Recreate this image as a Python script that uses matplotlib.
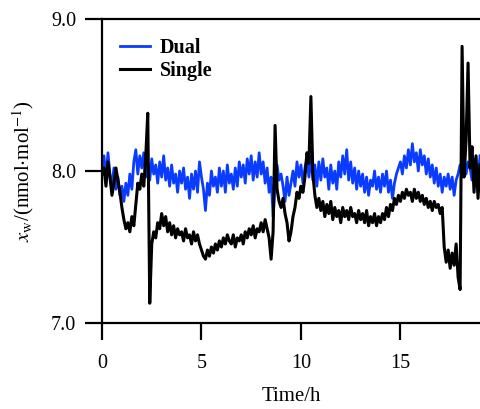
import numpy
from matplotlib import pyplot
from matplotlib.ticker import FormatStrFormatter

# time axis in hours, one reading every 0.1 h
time_h = numpy.round(numpy.arange(0, 191) * 0.1, 1)

# Dual-path analyser, nmol/mol
dual = [
    8.02, 8.10, 7.95, 8.12, 7.98, 7.90, 8.02, 7.88, 7.96, 7.84,
    7.90, 7.80, 7.92, 7.84, 7.98, 7.88, 8.06, 8.14, 7.98, 8.10,
    8.02, 8.12, 7.96, 8.06, 7.94, 8.08, 7.98, 8.04, 7.92, 8.06,
    7.96, 8.10, 7.94, 8.02, 7.90, 8.04, 7.92, 7.98, 7.86, 8.00,
    7.92, 8.02, 7.88, 7.96, 7.82, 7.98, 7.88, 8.00, 7.86, 8.06,
    7.96, 7.88, 7.74, 7.92, 7.84, 8.00, 7.90, 7.96, 7.86, 8.02,
    7.90, 8.00, 7.86, 8.04, 7.92, 7.98, 7.88, 8.02, 7.90, 8.06,
    7.96, 8.04, 7.92, 8.08, 7.98, 8.10, 7.94, 8.06, 7.96, 8.12,
    7.98, 8.06, 7.92, 8.02, 7.86, 7.96, 7.70, 7.90, 8.04, 7.94,
    7.98, 7.90, 7.80, 7.96, 7.84, 7.92, 8.00, 7.90, 8.06, 7.96,
    8.04, 7.92, 8.02, 8.08, 7.96, 8.10, 7.94, 8.04, 7.90, 8.06,
    7.94, 8.08, 7.96, 8.02, 7.88, 8.04, 7.92, 8.00, 7.88, 8.06,
    7.96, 8.10, 7.98, 8.14, 7.94, 8.06, 7.92, 8.02, 7.88, 8.00,
    7.90, 7.98, 7.86, 7.96, 7.84, 7.94, 7.90, 8.00, 7.88, 7.96,
    7.86, 7.98, 7.90, 8.00, 7.86, 7.94, 7.82, 7.92, 7.98, 8.02,
    8.06, 7.98, 8.10, 8.02, 8.14, 8.04, 8.18, 8.06, 8.12, 8.00,
    8.14, 8.04, 8.10, 7.98, 8.08, 7.96, 8.04, 7.92, 8.02, 7.90,
    7.98, 7.86, 7.96, 7.90, 7.98, 7.88, 7.96, 7.84, 7.94, 7.98,
    8.04, 7.96, 8.10, 7.98, 8.06, 8.02, 7.94, 8.08, 8.00, 7.96, 8.10,
]

# Single-path analyser, nmol/mol
single = [
    7.98, 8.02, 7.90, 8.06, 7.96, 7.84, 7.92, 8.02, 7.94, 7.86,
    7.76, 7.68, 7.62, 7.66, 7.60, 7.70, 7.64, 7.78, 7.92, 7.88,
    7.98, 7.90, 8.10, 8.38, 7.13, 7.52, 7.60, 7.56, 7.66, 7.62,
    7.72, 7.64, 7.70, 7.60, 7.66, 7.58, 7.64, 7.56, 7.62, 7.58,
    7.60, 7.54, 7.62, 7.56, 7.58, 7.52, 7.60, 7.54, 7.58, 7.52,
    7.48, 7.44, 7.42, 7.48, 7.44, 7.50, 7.46, 7.52, 7.48, 7.54,
    7.50, 7.56, 7.52, 7.58, 7.54, 7.52, 7.58, 7.50, 7.56, 7.54,
    7.58, 7.52, 7.60, 7.56, 7.62, 7.58, 7.64, 7.56, 7.62, 7.60,
    7.66, 7.60, 7.68, 7.62, 7.56, 7.42, 7.60, 8.30, 7.88, 7.80,
    7.76, 7.82, 7.72, 7.66, 7.54, 7.60, 7.70, 7.76, 7.86, 7.82,
    7.90, 7.86, 7.96, 8.12, 8.05, 8.49, 7.98, 7.84, 7.76, 7.82,
    7.74, 7.80, 7.70, 7.78, 7.72, 7.80, 7.68, 7.76, 7.70, 7.74,
    7.66, 7.76, 7.70, 7.74, 7.68, 7.76, 7.70, 7.72, 7.66, 7.74,
    7.68, 7.72, 7.66, 7.74, 7.64, 7.70, 7.66, 7.72, 7.64, 7.70,
    7.66, 7.72, 7.68, 7.76, 7.70, 7.78, 7.74, 7.82, 7.78, 7.84,
    7.80, 7.86, 7.82, 7.88, 7.84, 7.86, 7.80, 7.88, 7.82, 7.86,
    7.80, 7.84, 7.78, 7.82, 7.76, 7.80, 7.74, 7.80, 7.76, 7.78,
    7.72, 7.76, 7.50, 7.40, 7.48, 7.36, 7.46, 7.38, 7.52, 7.30,
    7.22, 8.82, 7.96, 8.20, 8.71, 8.02, 8.16, 7.86, 8.10, 7.82, 8.04,
]

xticks = [0, 5, 10, 15]
yticks = [7.0, 8.0, 9.0]


def main():
    pyplot.rcParams['font.family'] = ['Liberation Serif', 'DejaVu Serif']
    pyplot.rcParams['mathtext.fontset'] = 'stix'

    fig = pyplot.figure(figsize=(4.8, 4.09), dpi=100)
    ax = fig.add_axes([102 / 480, 86 / 409, 378 / 480, 304 / 409])

    ax.plot(time_h, dual, color="#0a3cff", lw=2.0, label="Dual")
    ax.plot(time_h, single, color="black", lw=2.2, label="Single")

    ax.set_xlim(0, 19)
    ax.set_ylim(7.0, 9.0)
    ax.set_xticks(xticks)
    ax.set_yticks(yticks)
    ax.yaxis.set_major_formatter(FormatStrFormatter("%.1f"))

    for side in ["left", "bottom", "top"]:
        ax.spines[side].set_linewidth(1.6)
    ax.spines["right"].set_visible(False)
    ax.tick_params(axis="both", direction="out", length=12.5, width=1.6,
                   labelsize=14.5)
    ax.tick_params(axis="x", pad=10)
    ax.tick_params(axis="y", pad=6)

    ax.set_xlabel("Time/h", fontsize=15, labelpad=10)
    ax.set_ylabel(r"$x_{\mathrm{w}}$/(nmol$\cdot$mol$^{-1}$)", fontsize=15,
                  labelpad=11)

    ax.legend(loc="upper left", frameon=False,
              prop={"weight": "bold", "size": 14.5},
              handlelength=1.5, handletextpad=0.5, labelspacing=0.15,
              borderaxespad=0.0, bbox_to_anchor=(0.025, 0.965))

    fig.savefig("out.png", dpi=100)
    pyplot.close()


if __name__ == '__main__':
    main()
